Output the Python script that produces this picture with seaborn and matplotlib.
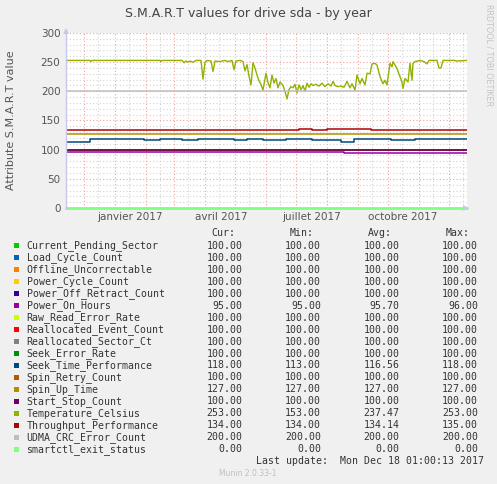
import numpy as np
import pandas as pd
import matplotlib
matplotlib.use("Agg")
import matplotlib.pyplot as plt
import matplotlib.patches as mpatches
import seaborn as sns

# ----------------------------------------------------------
# Data (days are counted from 2017-01-01)
# ----------------------------------------------------------

series_names = [
    "Current_Pending_Sector", "Load_Cycle_Count", "Offline_Uncorrectable",
    "Power_Cycle_Count", "Power_Off_Retract_Count", "Power_On_Hours",
    "Raw_Read_Error_Rate", "Reallocated_Event_Count", "Reallocated_Sector_Ct",
    "Seek_Error_Rate", "Seek_Time_Performance", "Spin_Retry_Count",
    "Spin_Up_Time", "Start_Stop_Count", "Temperature_Celsius",
    "Throughput_Performance", "UDMA_CRC_Error_Count", "smartctl_exit_status",
]
series_colors = [
    "#00CC00", "#0066B3", "#FF8000", "#FFCC00", "#330099", "#990099",
    "#CCFF00", "#FF0000", "#808080", "#008F00", "#00487D", "#B35A00",
    "#B38F00", "#6B006B", "#8FB300", "#B30000", "#BEBEBE", "#80FF80",
]
cur_vals = [100, 100, 100, 100, 100, 95, 100, 100, 100, 100, 118, 100, 127, 100, 253, 134, 200, 0]
min_vals = [100, 100, 100, 100, 100, 95, 100, 100, 100, 100, 113, 100, 127, 100, 153, 134, 200, 0]
avg_vals = [100, 100, 100, 100, 100, 95.70, 100, 100, 100, 100, 116.56, 100, 127, 100, 237.47, 134.14, 200, 0]
max_vals = [100, 100, 100, 100, 100, 96, 100, 100, 100, 100, 118, 100, 127, 100, 253, 135, 200, 0]

first_day = -49
last_day = 352

seek_days = [-49, -25, 29, 45, 67, 83, 119, 132, 148, 171, 197, 226, 239, 276, 300, 352]
seek_vals = [113, 118, 116, 118, 116, 118, 116, 118, 116, 118, 116, 113, 118, 116, 118, 118]

through_days = [-49, 184, 197, 212, 256, 352]
through_vals = [134, 135, 134, 135, 134, 134]

onhours_days = [-49, 229, 352]
onhours_vals = [96, 95, 95]

temp_days = [
    -49, -25, -24, -23, 45, 46, 47, 67, 69, 71, 73, 75, 78, 81, 86, 88, 90, 92,
    96, 98, 100, 105, 110, 113, 117, 119, 121, 125, 128, 130, 132, 134, 136, 138,
    140, 142, 144, 146, 148, 151, 153, 155, 157, 159, 161, 163, 165, 168, 170, 172,
    174, 176, 178, 180, 182, 184, 186, 188, 190, 192, 194, 196, 198, 201, 204, 207,
    210, 213, 216, 218, 220, 223, 226, 229, 232, 235, 237, 240, 242, 245, 247, 250,
    252, 255, 257, 260, 262, 265, 268, 270, 272, 275, 277, 278, 282, 285, 287, 288,
    290, 293, 295, 297, 298, 300, 305, 309, 312, 314, 322, 324, 326, 328, 340, 341, 352,
]
temp_vals = [
    253, 253, 251, 253, 253, 251, 253, 253, 249, 252, 250, 252, 250, 253, 253, 221, 250, 253,
    252, 234, 252, 251, 253, 251, 253, 237, 252, 253, 251, 235, 246, 226, 211, 249,
    240, 228, 218, 212, 202, 231, 215, 206, 228, 214, 222, 206, 216, 210, 200, 187,
    203, 208, 206, 212, 197, 211, 203, 210, 200, 214, 207, 213, 210, 212, 209, 214,
    208, 213, 209, 217, 210, 208, 209, 207, 217, 206, 213, 202, 228, 213, 222, 211,
    231, 230, 247, 248, 245, 225, 213, 219, 211, 248, 242, 251, 239, 225, 216, 205,
    222, 216, 248, 219, 248, 251, 253, 251, 247, 253, 253, 240, 240, 253, 253, 252, 253,
]

label_dates = ["2017-01-16", "2017-04-17", "2017-07-17", "2017-10-16"]
label_texts = ["janvier 2017", "avril 2017", "juillet 2017", "octobre 2017"]

# ----------------------------------------------------------
# Build tables
# ----------------------------------------------------------

base = pd.Timestamp("2017-01-01")

def to_dates(days):
    return base + pd.to_timedelta(np.array(days), unit="D")

step_data = {
    "Power_On_Hours": (onhours_days, onhours_vals),
    "Seek_Time_Performance": (seek_days, seek_vals),
    "Throughput_Performance": (through_days, through_vals),
}

rows = []
for name, cur in zip(series_names, cur_vals):
    if name == "Temperature_Celsius":
        continue
    days, vals = step_data.get(name, ([first_day, last_day], [cur, cur]))
    for d, v in zip(days, vals):
        rows.append({"date": base + pd.Timedelta(days=d), "value": v, "series": name})
steps = pd.DataFrame(rows)

temp = pd.DataFrame({"date": to_dates(temp_days), "value": temp_vals,
                     "series": "Temperature_Celsius"})

palette = dict(zip(series_names, series_colors))
step_order = [n for n in series_names if n != "Temperature_Celsius"]

# ----------------------------------------------------------
# Style
# ----------------------------------------------------------

sns.set_style("white")
plt.rcParams["font.family"] = ["DejaVu Sans"]

BG = "#f0f0f0"
TXT = "#555555"
RED = "#f2a0a0"
GRAY = "#d4d4d4"

fig = plt.figure(figsize=(4.97, 4.84), dpi=100, facecolor=BG)
W, H = 497, 484
ax = fig.add_axes([66 / W, 1 - 208 / H, 401 / W, 175 / H])
ax.set_facecolor("white")

# grid
start = base + pd.Timedelta(days=first_day)
end = base + pd.Timedelta(days=last_day)
for m in pd.date_range("2016-11-15", "2017-12-15", freq="MS") + pd.Timedelta(days=14):
    ax.axvline(m, color=GRAY, lw=0.8, ls=(0, (1, 2)), zorder=0)
for m in pd.date_range("2016-12-01", "2017-12-01", freq="MS"):
    ax.axvline(m, color=RED, lw=0.8, ls=(0, (1, 2)), zorder=0.5)
ax.set_yticks(np.arange(0, 301, 50))
ax.set_yticks(np.arange(0, 301, 10), minor=True)
ax.yaxis.grid(True, which="minor", color=GRAY, lw=0.8, ls=(0, (1, 2)), zorder=0)
ax.yaxis.grid(True, which="major", color=RED, lw=0.8, ls=(0, (1, 2)), zorder=0.5)
ax.set_axisbelow(True)

# ----------------------------------------------------------
# Lines
# ----------------------------------------------------------

sns.lineplot(data=temp, x="date", y="value", hue="series", palette=palette,
             legend=False, lw=1.0, ax=ax, estimator=None)
sns.lineplot(data=steps, x="date", y="value", hue="series", hue_order=step_order,
             palette=palette, legend=False, lw=1.1, ax=ax, estimator=None,
             drawstyle="steps-post")
# the 0-line sits on the x axis, let it show in full
ax.lines[-1].set_linewidth(2)
ax.lines[-1].set_clip_on(False)

ax.set_xlim(start, end)
ax.set_ylim(0, 300)

# ----------------------------------------------------------
# Axes
# ----------------------------------------------------------

for s in ["top", "right", "bottom"]:
    ax.spines[s].set_visible(False)
ax.spines["left"].set_color("#c8c8ee")
ax.spines["left"].set_linewidth(1)

ax.set_xticks(pd.to_datetime(label_dates))
ax.set_xticklabels(label_texts)
ax.tick_params(axis="x", length=0, pad=3, labelsize=7.5, labelcolor=TXT)
ax.tick_params(axis="y", which="major", length=2, color=RED, pad=2,
               labelsize=7.5, labelcolor=TXT)
ax.tick_params(axis="y", which="minor", length=0)
ax.set_xlabel("")
ax.set_ylabel("Attribute S.M.A.R.T value", fontsize=8, color=TXT)
ax.yaxis.set_label_coords(-(66 - 16) / 401, 0.5)

ax.annotate("", xy=(0, 1.045), xytext=(0, 0.99), xycoords="axes fraction",
            arrowprops=dict(arrowstyle="-|>", color="#c8c8ee", lw=1, mutation_scale=7),
            annotation_clip=False)
ax.annotate("", xy=(1.012, 0), xytext=(0.99, 0), xycoords="axes fraction",
            arrowprops=dict(arrowstyle="-|>", color="#c8c8ee", lw=1, mutation_scale=7),
            annotation_clip=False)

fig.text(0.5, 1 - 13 / H, "S.M.A.R.T values for drive sda - by year",
         ha="center", va="center", fontsize=9, color="#444444")
fig.text(489 / W, 1 - 4 / H, "RRDTOOL / TOBI OETIKER", rotation=270,
         ha="center", va="top", fontsize=5.8, color="#c4c4c4")

# ----------------------------------------------------------
# Legend table
# ----------------------------------------------------------

MONO = dict(family="DejaVu Sans Mono", fontsize=7.1, color="#333333")
y_head = 233.5
for txt, xr in zip(["Cur:", "Min:", "Avg:", "Max:"], [235, 314, 392, 470]):
    fig.text(xr / W, 1 - y_head / H, txt, ha="right", va="center", **MONO)

for i, name in enumerate(series_names):
    yc = 245.7 + i * 11.98
    fig.patches.append(mpatches.Rectangle((13.8 / W, 1 - (yc + 2.7) / H), 5.4 / W, 5.4 / H,
                                          transform=fig.transFigure, color=series_colors[i],
                                          lw=0))
    fig.text(26.5 / W, 1 - yc / H, name, ha="left", va="center", **MONO)
    for v, xr in zip([cur_vals[i], min_vals[i], avg_vals[i], max_vals[i]], [242.5, 321, 399.5, 478]):
        fig.text(xr / W, 1 - yc / H, f"{v:.2f}", ha="right", va="center", **MONO)

fig.text(483.5 / W, 1 - 461 / H, "Last update:  Mon Dec 18 01:00:13 2017",
         ha="right", va="center", **MONO)
fig.text(248 / W, 1 - 473.5 / H, "Munin 2.0.33-1", ha="center", va="center",
         fontsize=5.5, color="#c0c0c0")

fig.savefig("out.png", dpi=100, facecolor=BG)
